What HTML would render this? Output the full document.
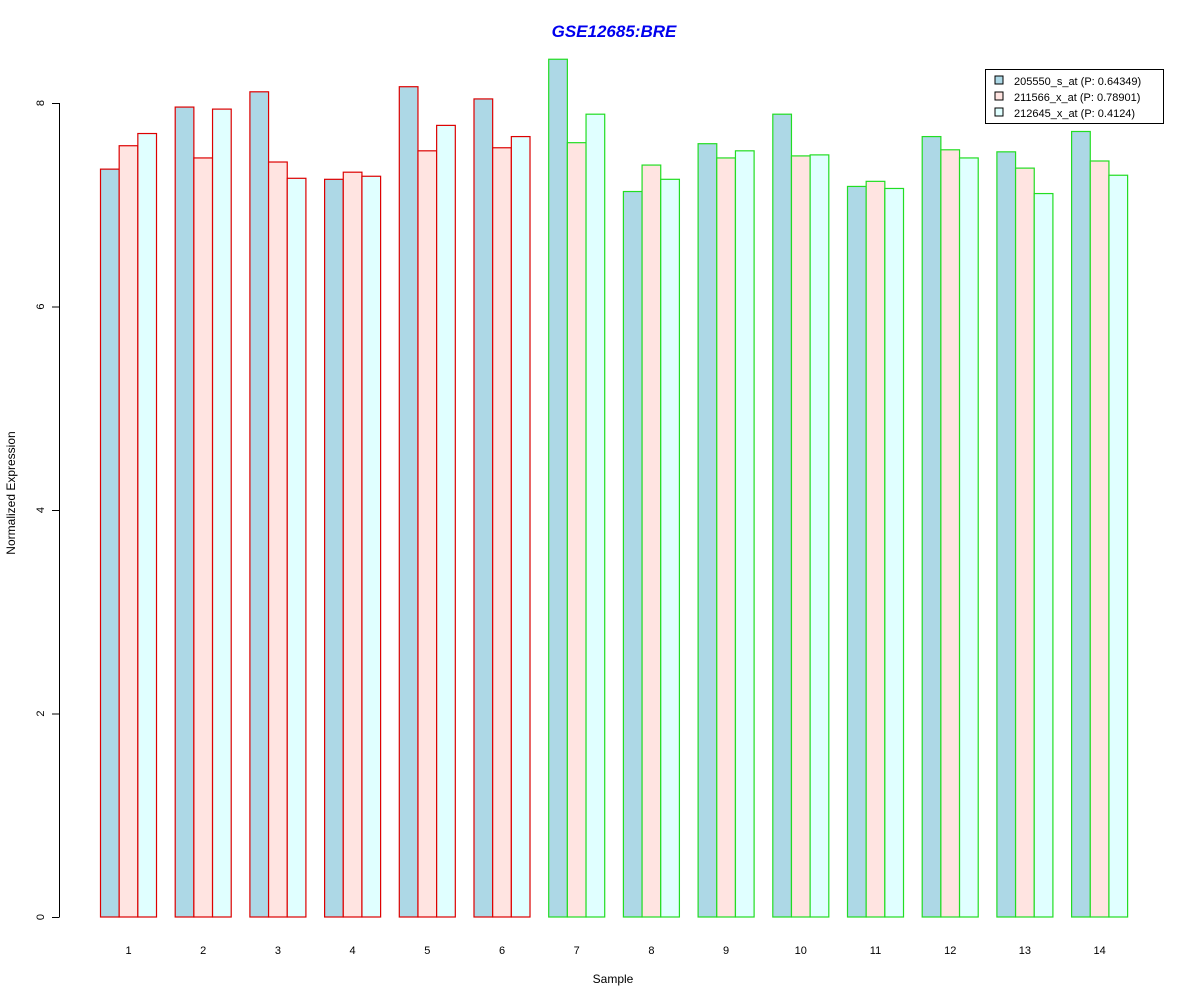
<!DOCTYPE html>
<html><head><meta charset="utf-8"><style>
body{margin:0;background:#fff;}
svg text{font-family:"Liberation Sans",Arial,sans-serif;}
</style></head><body>
<svg id="chart" width="1200" height="1000" xmlns="http://www.w3.org/2000/svg">
<rect width="1200" height="1000" fill="#fff"/>
<text x="614" y="37" text-anchor="middle" font-size="17" font-weight="bold" font-style="italic" fill="#0000ee">GSE12685:BRE</text>
<text x="613" y="983" text-anchor="middle" font-size="12">Sample</text>
<text transform="translate(15,493) rotate(-90)" text-anchor="middle" font-size="12">Normalized Expression</text>
<g id="bars"></g>
<g id="axis"></g>
<g>
<rect x="985.5" y="69.5" width="178" height="54" fill="#fff" stroke="#000"/>
<rect x="995" y="76" width="8" height="8" fill="#add8e6" stroke="#000"/>
<text x="1014" y="85" font-size="11">205550_s_at (P: 0.64349)</text>
<rect x="995" y="92" width="8" height="8" fill="#ffe4e1" stroke="#000"/>
<text x="1014" y="101" font-size="11">211566_x_at (P: 0.78901)</text>
<rect x="995" y="108" width="8" height="8" fill="#e0ffff" stroke="#000"/>
<text x="1014" y="117" font-size="11">212645_x_at (P: 0.4124)</text>
</g>
</svg>
<script>
const categories=["1","2","3","4","5","6","7","8","9","10","11","12","13","14"];
const series1=[7.35,7.96,8.11,7.25,8.16,8.04,8.43,7.13,7.60,7.89,7.18,7.67,7.52,7.72];
const series2=[7.58,7.46,7.42,7.32,7.53,7.56,7.61,7.39,7.46,7.48,7.23,7.54,7.36,7.43];
const series3=[7.70,7.94,7.26,7.28,7.78,7.67,7.89,7.25,7.53,7.49,7.16,7.46,7.11,7.29];
const groupColors=["#dd0000","#dd0000","#dd0000","#dd0000","#dd0000","#dd0000","#22dd22","#22dd22","#22dd22","#22dd22","#22dd22","#22dd22","#22dd22","#22dd22"];
const yTicks=[0,2,4,6,8];
const NS="http://www.w3.org/2000/svg";
const y0=917,ppu=101.75,x0=100.5,bw=18.67,period=74.7;
function yS(v){return y0-v*ppu;}
function xS(g,k){return x0+g*period+k*bw;}
const fills=["#add8e6","#ffe4e1","#e0ffff"];
const all=[series1,series2,series3];
const bars=document.getElementById('bars');
categories.forEach((c,g)=>{
  all.forEach((s,k)=>{
    const r=document.createElementNS(NS,'rect');
    
    
    r.setAttribute('x',xS(g,k));r.setAttribute('y',yS(s[g]));
    r.setAttribute('width',bw);r.setAttribute('height',s[g]*ppu);
    r.setAttribute('fill',fills[k]);r.setAttribute('stroke',groupColors[g]);r.setAttribute('stroke-width','1.2');
    bars.appendChild(r);
  });
  const t=document.createElementNS(NS,'text');
  
  
  t.setAttribute('x',xS(g,1.5));t.setAttribute('y',954);t.setAttribute('text-anchor','middle');t.setAttribute('font-size','11');
  t.textContent=c;bars.appendChild(t);
});
const ax=document.getElementById('axis');
const l=document.createElementNS(NS,'line');


l.setAttribute('x1',59.5);l.setAttribute('x2',59.5);l.setAttribute('y1',yS(0));l.setAttribute('y2',yS(8));l.setAttribute('stroke','#000');
ax.appendChild(l);
yTicks.forEach(v=>{
  const tk=document.createElementNS(NS,'line');
  
  
  tk.setAttribute('x1',52);tk.setAttribute('x2',59.5);tk.setAttribute('y1',yS(v)+0.5);tk.setAttribute('y2',yS(v)+0.5);tk.setAttribute('stroke','#000');
  ax.appendChild(tk);
  const t=document.createElementNS(NS,'text');
  
  
  t.setAttribute('transform','translate(44,'+yS(v)+') rotate(-90)');t.setAttribute('text-anchor','middle');t.setAttribute('font-size','11');
  t.textContent=v;ax.appendChild(t);
});
</script>
</body></html>
